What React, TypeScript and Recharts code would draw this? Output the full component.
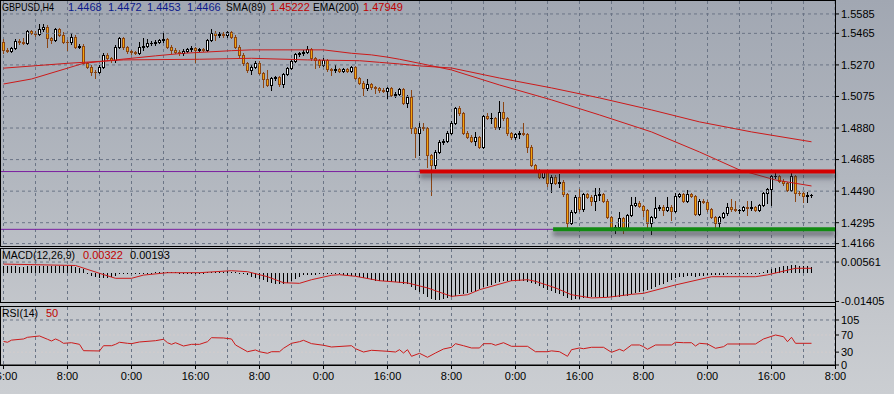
import React from "react";
import { ComposedChart, Bar, Line, XAxis, YAxis, ReferenceLine, CartesianGrid } from "recharts";

// GBPUSD H4 closes, one per candle (open = previous close)
const firstOpen = 1.5414;
const closes = [
  1.5363, 1.5358, 1.5377, 1.542, 1.5409, 1.5406, 1.548, 1.5468, 1.5461, 1.5492,
  1.5507, 1.5435, 1.5427, 1.5492, 1.5455, 1.5414, 1.5409, 1.5445, 1.5383, 1.5389,
  1.5282, 1.5259, 1.5228, 1.5227, 1.5259, 1.5332, 1.5313, 1.5301, 1.5383, 1.5435,
  1.5381, 1.5356, 1.535, 1.5346, 1.5381, 1.5388, 1.5403, 1.5406, 1.5412, 1.5421,
  1.5429, 1.5383, 1.5363, 1.5352, 1.5342, 1.5358, 1.5367, 1.5373, 1.5363, 1.5367,
  1.5363, 1.5424, 1.5469, 1.5455, 1.5461, 1.5453, 1.5472, 1.5445, 1.5383, 1.5332,
  1.528, 1.5239, 1.5259, 1.5284, 1.5219, 1.5181, 1.5146, 1.5188, 1.5194, 1.5152,
  1.5214, 1.525, 1.5296, 1.5338, 1.5342, 1.5352, 1.5367, 1.5311, 1.5301, 1.527,
  1.5301, 1.5243, 1.5239, 1.5245, 1.5235, 1.5242, 1.5233, 1.5256, 1.5188, 1.516,
  1.5126, 1.5152, 1.5132, 1.5126, 1.5115, 1.5111, 1.5125, 1.5084, 1.5091, 1.512,
  1.5037, 1.5074, 1.4879, 1.4848, 1.4888, 1.4879, 1.4714, 1.4652, 1.4734, 1.4796,
  1.48, 1.4851, 1.4913, 1.5002, 1.4971, 1.4851, 1.4827, 1.4802, 1.4823, 1.4765,
  1.4955, 1.4942, 1.4942, 1.4885, 1.4981, 1.494, 1.4848, 1.4823, 1.4843, 1.4848,
  1.4843, 1.4765, 1.4652, 1.4621, 1.458, 1.461, 1.4539, 1.458, 1.4542, 1.4549,
  1.4471, 1.4292, 1.4363, 1.4456, 1.4378, 1.4473, 1.4456, 1.4431, 1.4466, 1.4471,
  1.4431, 1.4329, 1.4261, 1.4271, 1.4322, 1.4261, 1.4343, 1.4405, 1.4419, 1.4398,
  1.4374, 1.4292, 1.4329, 1.4384, 1.4394, 1.4374, 1.4394, 1.4369, 1.446, 1.4473,
  1.4431, 1.4473, 1.446, 1.4349, 1.4431, 1.4425, 1.4378, 1.4329, 1.4292, 1.4329,
  1.4353, 1.439, 1.4378, 1.4374, 1.4374, 1.439, 1.4384, 1.439, 1.4374, 1.4405,
  1.4477, 1.4502, 1.4584, 1.4584, 1.4555, 1.4539, 1.4497, 1.4584, 1.4481, 1.4477,
  1.446, 1.4466, 1.4466,
];
// shadow lengths in pips above / below the body
const wickUp = [
  15, 12, 6, 9, 10, 28, 8, 8, 10, 31, 17, 8, 10, 8, 8, 19, 8, 25, 10, 10,
  8, 8, 8, 10, 10, 10, 10, 8, 8, 8, 8, 8, 8, 8, 33, 48, 28, 12, 10, 10,
  37, 8, 8, 10, 10, 8, 10, 14, 10, 10, 8, 8, 20, 8, 10, 10, 8, 8, 8, 8,
  10, 8, 8, 8, 8, 8, 58, 8, 10, 8, 8, 10, 10, 8, 8, 8, 20, 8, 8, 8,
  10, 8, 10, 25, 8, 10, 8, 8, 8, 8, 8, 31, 8, 10, 8, 10, 10, 8, 10, 8,
  8, 8, 41, 8, 23, 23, 8, 8, 8, 8, 14, 8, 8, 10, 14, 8, 8, 10, 35, 8,
  8, 19, 29, 8, 68, 62, 8, 8, 8, 14, 66, 8, 8, 8, 8, 8, 8, 8, 8, 48,
  8, 8, 8, 8, 48, 8, 8, 8, 42, 37, 8, 8, 8, 8, 41, 8, 8, 51, 37, 8,
  8, 8, 8, 68, 8, 8, 58, 8, 19, 8, 8, 25, 8, 8, 8, 10, 8, 8, 8, 8,
  8, 27, 51, 51, 8, 8, 39, 39, 8, 8, 8, 8, 8, 17, 8, 8, 8, 17, 8, 8,
  8, 20, 6,
];
const wickDown = [
  17, 8, 6, 6, 9, 8, 8, 8, 10, 8, 10, 52, 20, 8, 8, 8, 46, 8, 8, 8,
  8, 10, 20, 37, 10, 10, 12, 12, 12, 8, 10, 10, 12, 10, 8, 19, 8, 10, 10, 8,
  8, 10, 20, 10, 10, 8, 8, 8, 72, 8, 8, 8, 8, 31, 10, 10, 10, 10, 8, 10,
  8, 10, 25, 8, 8, 45, 8, 31, 12, 10, 19, 8, 8, 8, 10, 8, 8, 8, 50, 10,
  8, 10, 31, 10, 10, 8, 8, 8, 8, 10, 41, 8, 10, 29, 10, 10, 45, 8, 10, 8,
  8, 27, 29, 145, 134, 10, 72, 185, 19, 8, 14, 8, 8, 8, 8, 8, 10, 10, 26, 10,
  10, 8, 33, 8, 8, 8, 10, 10, 10, 27, 8, 33, 8, 8, 8, 8, 17, 52, 10, 27,
  8, 29, 8, 8, 8, 8, 8, 27, 58, 31, 8, 8, 11, 31, 8, 31, 8, 8, 8, 8,
  37, 21, 66, 8, 8, 31, 8, 58, 8, 8, 8, 8, 8, 8, 8, 10, 8, 8, 23, 23,
  8, 8, 8, 8, 19, 8, 41, 8, 8, 8, 8, 60, 97, 10, 8, 8, 8, 8, 52, 10,
  35, 35, 13,
];

const smaBars = [0, 7, 16, 20, 28, 38, 45, 57, 62, 80, 87, 92, 96, 99, 104, 112, 124, 137, 149, 162, 174, 184, 193, 202];
const smaVals = [1.5152, 1.5183, 1.525, 1.528, 1.5301, 1.5326, 1.5342, 1.5358, 1.5363, 1.5363, 1.5342, 1.5332, 1.5318, 1.5305, 1.528, 1.5239, 1.5146, 1.5054, 1.4961, 1.4856, 1.4732, 1.4621, 1.4559, 1.4522];
const emaBars = [0, 16, 30, 49, 62, 76, 89, 94, 99, 104, 112, 124, 137, 149, 162, 174, 187, 202];
const emaVals = [1.525, 1.528, 1.5301, 1.5305, 1.5311, 1.5301, 1.5296, 1.5286, 1.5276, 1.5264, 1.5251, 1.5189, 1.5128, 1.5066, 1.4992, 1.4918, 1.4856, 1.4795];

// MACD main in units of 0.0001
const macdPips = [
  36, 35, 34, 34, 33, 33, 35, 36, 37, 37, 38, 38, 37, 37, 37, 36, 36, 35, 32, 28,
  22, -5, -12, -20, -24, -25, -22, -18, -12, -5, -2, -1, -2, -3, -2, 0, 2, 3, 4, 5,
  6, 6, 5, 4, 3, 3, 3, 3, 3, 3, 3, 4, 6, 7, 8, 8, 9, 8, 6, 2,
  -4, -10, -16, -22, -28, -35, -42, -48, -52, -55, -52, -46, -38, -28, -18, -10, -6, -8, -7, -5,
  -2, 1, 2, 2, 0, -6, -10, -12, -15, -20, -25, -30, -33, -36, -38, -40, -40, -42, -45, -46,
  -52, -55, -70, -85, -95, -105, -118, -128, -131, -131, -130, -125, -120, -112, -105, -104, -100, -95, -88, -80,
  -70, -62, -56, -50, -44, -40, -40, -40, -40, -40, -40, -42, -48, -55, -65, -72, -82, -90, -98, -105,
  -112, -125, -131, -130, -128, -125, -122, -120, -118, -118, -118, -118, -120, -120, -118, -115, -112, -105, -98, -94,
  -90, -82, -76, -70, -60, -52, -45, -35, -25, -20, -18, -15, -15, -18, -15, -12, -10, -8, -6, -8,
  -6, -4, -3, -3, -2, -2, 0, 0, 2, 3, 8, 14, 22, 28, 33, 36, 38, 40, 40, 38,
  36, 34, 32,
];
const signalBars = [0, 18, 24, 28, 32, 35, 41, 49, 57, 61, 66, 70, 74, 77, 82, 84, 88, 94, 101, 106, 112, 116, 119, 127, 131, 133, 138, 142, 147, 151, 157, 160, 168, 177, 188, 191, 198, 202];
const signalVals = [0.0046, 0.0039, 0, -0.0025, -0.0025, -0.0009, 0.0003, 0.0003, 0.0013, 0.0008, -0.0017, -0.0047, -0.005, -0.0032, -0.001, -0.0007, -0.0015, -0.0037, -0.0048, -0.0073, -0.0115, -0.0107, -0.0082, -0.0037, -0.0032, -0.004, -0.0073, -0.0107, -0.0123, -0.012, -0.0105, -0.01, -0.0058, -0.0017, -0.0017, -0.0008, 0.0025, 0.0025];

const rsiBars = [0, 1, 2, 5, 6, 9, 11, 12, 13, 14, 15, 17, 19, 20, 24, 25, 27, 28, 29, 31, 32, 34, 38, 40, 41, 42, 43, 45, 47, 49, 51, 52, 55, 57, 58, 61, 63, 64, 66, 67, 69, 70, 72, 74, 75, 77, 80, 82, 87, 88, 90, 92, 96, 98, 99, 100, 101, 102, 104, 106, 108, 110, 112, 113, 115, 117, 119, 120, 122, 123, 125, 127, 131, 133, 136, 137, 139, 141, 142, 144, 145, 147, 150, 152, 154, 155, 157, 159, 160, 161, 163, 167, 168, 170, 172, 173, 174, 176, 178, 180, 181, 188, 190, 193, 195, 196, 197, 198, 200, 202];
const rsiVals = [55, 53, 58, 60.7, 64.6, 67.7, 60, 56, 60.7, 56.7, 50.6, 52, 48.2, 33.4, 32.7, 45, 45, 48.2, 53, 50.6, 49.8, 53.7, 56.7, 60, 52, 48.2, 52, 44.3, 48.2, 48.2, 54.4, 63.7, 63, 60.7, 46.7, 31, 35, 31, 27.3, 31, 31, 39, 50.6, 54.4, 57.6, 49.8, 46, 42, 45, 38, 30.3, 34.3, 32, 30.3, 35.7, 28, 35.7, 20.3, 27.3, 18, 28, 37.3, 41.3, 49.7, 45, 39.7, 39.7, 49.7, 49.7, 46, 52, 43.6, 43.6, 31, 31, 33, 31, 20.3, 35.7, 39.7, 38, 41.3, 41.3, 29.6, 36.6, 32.7, 46.7, 46.7, 42.7, 36.6, 46.7, 46.7, 53, 52, 52, 44.3, 50.6, 49, 39, 42.7, 49, 49, 60.7, 70, 66, 54.4, 64.6, 50.6, 50.6, 50.6];

const priceTicks = [1.5585, 1.5465, 1.527, 1.5075, 1.488, 1.4685, 1.449, 1.4295, 1.4166];
const macdTicks = [0.00561, -0.01405];
const rsiTicks = [105, 70, 30, 0];
const gridBars = [0, 8, 16, 24, 32, 40, 48, 56, 64, 72, 80, 88, 96, 104, 112, 120, 128, 136, 144, 152, 160, 168, 176, 184, 192, 200];
const labelBars = [0, 16, 32, 48, 64, 80, 96, 112, 128, 144, 160, 176, 192, 208];
const timeLabels = ["16:00", "8:00", "0:00", "16:00", "8:00", "0:00", "16:00", "8:00", "0:00", "16:00", "8:00", "0:00", "16:00", "8:00"];

const resistance = 1.4611;
const support = 1.4254;
const resistanceFrom = 104.1;
const supportFrom = 137.4;

const PIP = 0.0001;
const X_DOMAIN: [number, number] = [-0.875, 207.875];
const FONT = '"Liberation Sans", Arial, sans-serif';
const GRID = "#6b7586";
const RED = "#cc1a1a";
const PURPLE = "#7a1fa0";
const BEAR_FILL = "#f4a40c";
const BEAR_LINE = "#8b4513";

const rows = closes.map((c, i) => {
  const o = i === 0 ? firstOpen : closes[i - 1];
  const row: Record<string, number | undefined> = {
    i,
    open: o,
    close: c,
    high: Math.max(o, c) + wickUp[i] * PIP,
    low: Math.min(o, c) - wickDown[i] * PIP,
    macd: macdPips[i] * PIP,
  };
  return row;
});
smaBars.forEach((b, k) => (rows[b].sma = smaVals[k]));
emaBars.forEach((b, k) => (rows[b].ema = emaVals[k]));
signalBars.forEach((b, k) => (rows[b].signal = signalVals[k]));
rsiBars.forEach((b, k) => (rows[b].rsi = rsiVals[k]));

const tickStyle = { fill: "#000", fontSize: 11, fontFamily: FONT };

function Candle(props: any) {
  const { x, y, width, height, payload } = props;
  if (x == null || !payload) return null;
  const top = Math.min(y, y + height);
  const h = Math.abs(height);
  const span = payload.high - payload.low;
  const toY = (v: number) => top + (span ? ((payload.high - v) / span) * h : 0);
  const cx = Math.round(x + width / 2 - 0.5) + 0.5;
  const bull = payload.close >= payload.open;
  const b1 = Math.round(toY(Math.max(payload.open, payload.close)));
  const b2 = Math.round(toY(Math.min(payload.open, payload.close)));
  const line = bull ? "#000" : BEAR_LINE;
  return (
    <g>
      <line x1={cx} x2={cx} y1={Math.round(top)} y2={Math.round(top + h) + 1} stroke={line} />
      {b2 - b1 >= 1 ? (
        <rect x={cx - 1} y={b1 + 0.5} width={2} height={b2 - b1} fill={bull ? "#fff" : BEAR_FILL} stroke={line} />
      ) : (
        <line x1={cx - 1.5} x2={cx + 1.5} y1={b1 + 0.5} y2={b1 + 0.5} stroke={line} />
      )}
    </g>
  );
}

function MacdBar(props: any) {
  const { x, y, width, height } = props;
  if (x == null) return null;
  const cx = Math.round(x + width / 2 - 0.5) + 0.5;
  const y1 = Math.round(Math.min(y, y + height));
  const y2 = Math.round(Math.max(y, y + height));
  return <line x1={cx} x2={cx} y1={y1} y2={Math.max(y2, y1 + 1)} stroke="#000" />;
}

// hidden axis that only carries the vertical grid positions
function gridAxis() {
  return <XAxis xAxisId="g" dataKey="i" type="number" domain={X_DOMAIN} ticks={gridBars} interval={0} hide allowDataOverflow />;
}

export default function App() {
  return (
    <div
      style={{
        position: "fixed",
        left: 0,
        top: 0,
        width: 894,
        height: 394,
        overflow: "hidden",
        fontFamily: FONT,
        background: "linear-gradient(180deg, #a1a7b2 0%, #b2b7bf 45%, #c4c7cc 80%, #cbced2 100%)",
      }}
    >
      <style>{`.sr-line, .sr-line line { filter: drop-shadow(0px 4px 2px rgba(50,50,60,0.35)); }`}</style>

      {/* price panel */}
      <div style={{ position: "absolute", left: 0, top: 0 }}>
        <ComposedChart width={894} height={253} data={rows} margin={{ top: 1, right: 0, bottom: 7, left: 0 }}>
          <XAxis dataKey="i" type="number" domain={X_DOMAIN} hide allowDataOverflow />
          {gridAxis()}
          <YAxis
            orientation="right"
            width={59}
            domain={[1.4151, 1.5665]}
            ticks={priceTicks}
            interval={0}
            tick={tickStyle}
            tickFormatter={(v: number) => v.toFixed(4)}
            tickSize={4}
            tickMargin={2}
            axisLine={false}
            tickLine={{ stroke: "#000" }}
            allowDataOverflow
          />
          <CartesianGrid xAxisId="g" horizontal={false} stroke={GRID} strokeDasharray="3 3" />
          {priceTicks.map((v) => (
            <ReferenceLine key={"h" + v} y={v} stroke={GRID} strokeDasharray="3 3" />
          ))}
          <ReferenceLine y={resistance} stroke={PURPLE} />
          <ReferenceLine y={support} stroke={PURPLE} />
          <Bar dataKey={(d: any) => [d.low, d.high]} shape={Candle} barSize={3} isAnimationActive={false} />
          <Line dataKey="ema" stroke={RED} strokeWidth={1} dot={false} connectNulls isAnimationActive={false} />
          <Line dataKey="sma" stroke={RED} strokeWidth={1} dot={false} connectNulls isAnimationActive={false} />
          <ReferenceLine
            segment={[{ x: resistanceFrom, y: resistance }, { x: X_DOMAIN[1], y: resistance }]}
            stroke="#d40000"
            strokeWidth={4}
            className="sr-line"
          />
          <ReferenceLine
            segment={[{ x: supportFrom, y: support }, { x: X_DOMAIN[1], y: support }]}
            stroke="#128a12"
            strokeWidth={4}
            className="sr-line"
          />
        </ComposedChart>
      </div>

      {/* MACD panel */}
      <div style={{ position: "absolute", left: 0, top: 248 }}>
        <ComposedChart width={894} height={61} data={rows} margin={{ top: 1, right: 0, bottom: 7, left: 0 }}>
          <XAxis dataKey="i" type="number" domain={X_DOMAIN} hide allowDataOverflow />
          {gridAxis()}
          <YAxis
            orientation="right"
            width={59}
            domain={[-0.014321, 0.012126]}
            ticks={macdTicks}
            interval={0}
            tick={tickStyle}
            tickFormatter={(v: number) => v.toFixed(5)}
            tickSize={4}
            tickMargin={2}
            axisLine={false}
            tickLine={{ stroke: "#000" }}
            allowDataOverflow
          />
          <CartesianGrid xAxisId="g" horizontal={false} stroke={GRID} strokeDasharray="3 3" />
          <ReferenceLine y={macdTicks[0]} stroke={GRID} strokeDasharray="3 3" />
          <Bar dataKey="macd" shape={MacdBar} barSize={1} isAnimationActive={false} />
          <Line dataKey="signal" stroke={RED} strokeWidth={1} dot={false} connectNulls isAnimationActive={false} />
        </ComposedChart>
      </div>

      {/* RSI panel */}
      <div style={{ position: "absolute", left: 0, top: 306 }}>
        <ComposedChart width={894} height={81} data={rows} margin={{ top: 1, right: 0, bottom: 0, left: 0 }}>
          <XAxis
            dataKey="i"
            type="number"
            domain={X_DOMAIN}
            ticks={labelBars}
            interval={0}
            height={22}
            tick={tickStyle}
            tickFormatter={(v: number) => timeLabels[labelBars.indexOf(v)] ?? ""}
            tickSize={4}
            tickMargin={3}
            axisLine={{ stroke: "#000" }}
            tickLine={{ stroke: "#000" }}
            allowDataOverflow
          />
          {gridAxis()}
          <YAxis
            orientation="right"
            width={59}
            domain={[0, 135.3]}
            ticks={rsiTicks}
            interval={0}
            tick={tickStyle}
            tickSize={4}
            tickMargin={2}
            axisLine={false}
            tickLine={{ stroke: "#000" }}
            allowDataOverflow
          />
          <CartesianGrid xAxisId="g" horizontal={false} stroke={GRID} strokeDasharray="3 3" />
          <ReferenceLine y={105} stroke={GRID} strokeDasharray="3 3" />
          <ReferenceLine y={70} stroke="#d2cccc" strokeDasharray="2 2" />
          <ReferenceLine y={30} stroke="#d2cccc" strokeDasharray="2 2" />
          <Line dataKey="rsi" stroke={RED} strokeWidth={1} dot={false} connectNulls isAnimationActive={false} />
        </ComposedChart>
      </div>

      {/* panel frames and captions */}
      <svg width={894} height={394} style={{ position: "absolute", left: 0, top: 0, pointerEvents: "none" }}>
        <g fill="none" stroke="#000">
          <rect x={0.5} y={0.5} width={835} height={246} />
          <rect x={0.5} y={248.5} width={835} height={54} />
          <rect x={0.5} y={306.5} width={835} height={59} />
          <line x1={835.5} x2={835.5} y1={0} y2={366} />
        </g>
        <g fontFamily={FONT} fontSize={11}>
          <text x={2} y={11} fill="#000" textLength={52} lengthAdjust="spacingAndGlyphs">GBPUSD,H4</text>
          <text x={68} y={11} fill="#0c1a8c">1.4468</text>
          <text x={108} y={11} fill="#0c1a8c">1.4472</text>
          <text x={147} y={11} fill="#0c1a8c">1.4453</text>
          <text x={187} y={11} fill="#0c1a8c">1.4466</text>
          <text x={226} y={11} fill="#000" textLength={40} lengthAdjust="spacingAndGlyphs">SMA(89)</text>
          <text x={270} y={11} fill="#c00000">1.45222</text>
          <text x={313} y={11} fill="#000" textLength={46} lengthAdjust="spacingAndGlyphs">EMA(200)</text>
          <text x={363} y={11} fill="#c00000">1.47949</text>
          <text x={2} y={259} fill="#000" textLength={73} lengthAdjust="spacingAndGlyphs">MACD(12,26,9)</text>
          <text x={83} y={259} fill="#c00000">0.00322</text>
          <text x={130} y={259} fill="#000">0.00193</text>
          <text x={2} y={317} fill="#000" textLength={36} lengthAdjust="spacingAndGlyphs">RSI(14)</text>
          <text x={46} y={317} fill="#c00000">50</text>
        </g>
      </svg>
    </div>
  );
}
